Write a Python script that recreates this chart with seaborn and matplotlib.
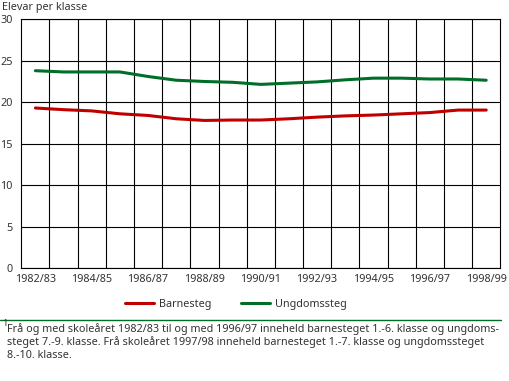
import matplotlib
matplotlib.use("Agg")
import matplotlib.pyplot as plt
import seaborn as sns
import pandas as pd
import numpy as np
from matplotlib.ticker import FixedLocator, NullFormatter
from matplotlib.lines import Line2D

years = ["1982/83", "1983/84", "1984/85", "1985/86", "1986/87", "1987/88", "1988/89",
         "1989/90", "1990/91", "1991/92", "1992/93", "1993/94", "1994/95", "1995/96",
         "1996/97", "1997/98", "1998/99"]
barnesteg = [19.3, 19.1, 18.95, 18.6, 18.4, 18.0, 17.8, 17.85, 17.85, 18.0, 18.2,
             18.35, 18.45, 18.6, 18.75, 19.05, 19.05]
ungdomssteg = [23.8, 23.65, 23.65, 23.65, 23.1, 22.65, 22.5, 22.4, 22.15, 22.3, 22.45,
               22.7, 22.9, 22.9, 22.8, 22.8, 22.65]
series_names = ["Barnesteg", "Ungdomssteg"]
yticks = [0, 5, 10, 15, 20, 25, 30]
ylabel = "Elevar per klasse"
footnote = ["Frå og med skoleåret 1982/83 til og med 1996/97 inneheld barnesteget 1.-6. klasse og ungdoms-",
            "steget 7.-9. klasse. Frå skoleåret 1997/98 inneheld barnesteget 1.-7. klasse og ungdomssteget",
            "8.-10. klasse."]

RED = "#c00000"
GREEN = "#006e28"
TXT = "#333333"

sns.set_theme(style="white")
plt.rcParams["font.family"] = ["Noto Sans", "DejaVu Sans"]

idx = np.arange(len(years))
df = pd.DataFrame({
    "pos": np.concatenate([idx, idx]),
    "value": barnesteg + ungdomssteg,
    "serie": [series_names[0]] * len(years) + [series_names[1]] * len(years),
})

W, H = 509, 381
fig = plt.figure(figsize=(W / 100, H / 100), dpi=100)
ax = fig.add_axes([21.3 / W, 1 - 268 / H, (500.3 - 21.3) / W, (268 - 19.3) / H])

sns.lineplot(data=df, x="pos", y="value", hue="serie", palette=[RED, GREEN],
             linewidth=2.2, ax=ax, legend=False)

FS = 7.8
ax.set_xlim(-0.5, len(years) - 0.5)
ax.set_ylim(0, 30)
ax.set_yticks(yticks)
ax.set_yticklabels([str(v) for v in yticks])
ax.set_xticks(idx[::2])
ax.set_xticklabels(years[::2])
ax.xaxis.set_minor_locator(FixedLocator(np.arange(0.5, len(years) - 1, 1.0)))
ax.xaxis.set_minor_formatter(NullFormatter())
ax.grid(False)
ax.grid(True, axis="y", which="major", color="black", linewidth=0.8)
ax.grid(True, axis="x", which="minor", color="black", linewidth=0.8)
ax.set_axisbelow(True)
for s in ax.spines.values():
    s.set_color("black")
    s.set_linewidth(0.8)
ax.tick_params(axis="both", which="both", length=0, colors=TXT, labelsize=FS)
ax.tick_params(axis="x", pad=4)
ax.tick_params(axis="y", pad=6)
ax.set_xlabel("")
ax.set_ylabel("")

fig.text(2 / W, 1 - 7.5 / H, ylabel, fontsize=FS, color=TXT, ha="left", va="center")

handles = [Line2D([], [], color=RED, linewidth=2.2), Line2D([], [], color=GREEN, linewidth=2.2)]
fig.legend(handles, series_names, loc="center", bbox_to_anchor=(236 / W, 1 - 304 / H),
           ncol=2, frameon=False, fontsize=FS, labelcolor=TXT, handlelength=2.7,
           handletextpad=0.45, columnspacing=2.7, borderpad=0, borderaxespad=0)

fig.add_artist(Line2D([0 / W, 501 / W], [1 - 319.5 / H, 1 - 319.5 / H], color=GREEN,
                      linewidth=1.0, transform=fig.transFigure))

fig.text(2 / W, 1 - 323 / H, "1", fontsize=6.5, color=TXT, ha="left", va="center")
texts = []
for i, line in enumerate(footnote):
    texts.append(fig.text(7 / W, 1 - (329 + 13.5 * i) / H, line, fontsize=FS, color=TXT,
                          ha="left", va="center"))
# fit the first footnote line to the reference width
renderer = fig.canvas.get_renderer()
w = texts[0].get_window_extent(renderer).width
fs_fit = FS * 499 / w
for t in texts:
    t.set_fontsize(min(FS, fs_fit))

fig.savefig("out.png", dpi=100)
